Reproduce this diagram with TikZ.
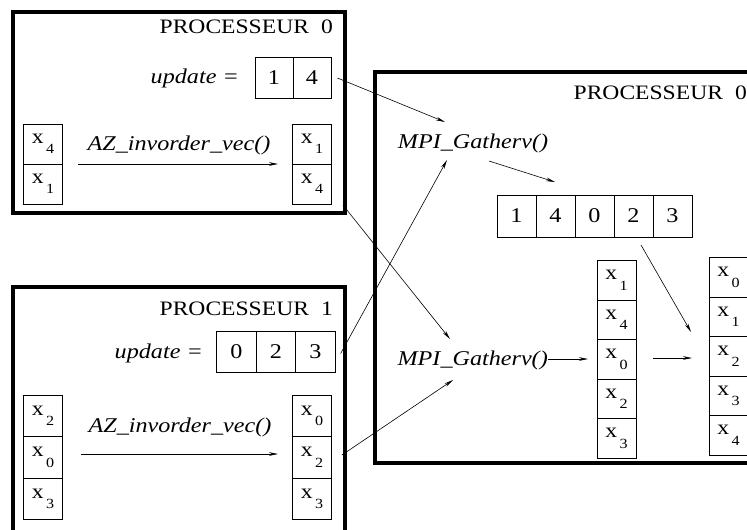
\documentclass[tikz,border=0pt]{standalone}
\usepackage{fontspec}
\setmainfont[FakeStretch=1.15]{Liberation Serif}
\usetikzlibrary{arrows.meta}
\newcommand{\xsub}[1]{x\hspace{2.5pt}\raisebox{-10.5pt}{\fontsize{14}{14}\selectfont #1}}
\tikzset{
  bigbox/.style={draw, line width=3.5pt},
  cell/.style={draw, line width=0.8pt, minimum width=39pt, minimum height=40pt, inner sep=0pt, font=\fontsize{20.5}{20}\selectfont},
  numcell/.style={cell, minimum height=41pt, font=\fontsize{21}{20}\selectfont},
  title/.style={anchor=base east, inner sep=0pt, font=\fontsize{20.5}{20}\selectfont},
  lbl/.style={anchor=base, inner sep=0pt, font=\fontsize{21}{20}\selectfont\itshape},
  arr/.style={line width=0.6pt, -{Stealth[length=9pt,width=3.6pt]}},
}
\begin{document}
\begin{tikzpicture}[x=1pt,y=-1pt]
\useasboundingbox (0,0) rectangle (747,530);
% frames
\draw[bigbox] (13,12) rectangle (345,213);
\draw[bigbox] (13,287) rectangle (345,560);
\draw[bigbox] (375,72) rectangle (770,463);
% processor 0
\node[title] (t0) at (333,33) {PROCESSEUR\hspace{12pt}0};
\node[lbl, anchor=base east] (up0) at (239,83) {update =};
\node[numcell, minimum width=38pt] (u01) at (274,78) {1};
\node[numcell, minimum width=38pt] (u04) at (312,78) {4};
\node[cell] (l04) at (43,144) {\xsub{4}};
\node[cell] (l01) at (43,184) {\xsub{1}};
\node[cell] (r01) at (312,144) {\xsub{1}};
\node[cell] (r04) at (312,184) {\xsub{4}};
\coordinate (az0s) at (78,164);
\coordinate (az0e) at (278,164);
\draw[arr] (az0s) -- (az0e);
\node[lbl] (az0) at (179,150) {AZ\_invorder\_vec()};
% processor 1
\node[title] (t1) at (333,315) {PROCESSEUR\hspace{12pt}1};
\node[lbl, anchor=base east] (up1) at (203,358) {update =};
\node[numcell, minimum width=39.5pt] (u10) at (236.5,351.5) {0};
\node[numcell, minimum width=39.5pt] (u12) at (276,351.5) {2};
\node[numcell, minimum width=39.5pt] (u13) at (315.5,351.5) {3};
\node[cell, minimum height=41.5pt] (l12) at (43,416) {\xsub{2}};
\node[cell, minimum height=41.5pt] (l10) at (43,457.5) {\xsub{0}};
\node[cell, minimum height=41.5pt] (l13) at (43,499) {\xsub{3}};
\node[cell, minimum height=41.5pt] (r10) at (312,416) {\xsub{0}};
\node[cell, minimum height=41.5pt] (r12) at (312,457.5) {\xsub{2}};
\node[cell, minimum height=41.5pt] (r13) at (312,499) {\xsub{3}};
\coordinate (az1s) at (81,454);
\coordinate (az1e) at (278,454);
\draw[arr] (az1s) -- (az1e);
\node[lbl] (az1) at (180,432) {AZ\_invorder\_vec()};
% root processor
\node[title] (t2) at (747,99) {PROCESSEUR\hspace{12pt}0};
\node[lbl] (g1) at (473,148) {MPI\_Gatherv()};
\node[lbl, anchor=base east] (g2) at (548,365) {MPI\_Gatherv()};
\node[numcell, minimum height=42pt] (a1) at (516.5,216) {1};
\node[numcell, minimum height=42pt] (a4) at (555.5,216) {4};
\node[numcell, minimum height=42pt] (a0) at (594.5,216) {0};
\node[numcell, minimum height=42pt] (a2) at (633.5,216) {2};
\node[numcell, minimum height=42pt] (a3) at (672.5,216) {3};
\node[cell, minimum height=39.5pt] (m1) at (616.5,280.5) {\xsub{1}};
\node[cell, minimum height=39.5pt] (m4) at (616.5,320) {\xsub{4}};
\node[cell, minimum height=39.5pt] (m0) at (616.5,359.5) {\xsub{0}};
\node[cell, minimum height=39.5pt] (m2) at (616.5,399) {\xsub{2}};
\node[cell, minimum height=39.5pt] (m3) at (616.5,438.5) {\xsub{3}};
\node[cell, minimum height=39.5pt] (f0) at (728.5,277.5) {\xsub{0}};
\node[cell, minimum height=39.5pt] (f1) at (728.5,317) {\xsub{1}};
\node[cell, minimum height=39.5pt] (f2) at (728.5,356.5) {\xsub{2}};
\node[cell, minimum height=39.5pt] (f3) at (728.5,396) {\xsub{3}};
\node[cell, minimum height=39.5pt] (f4) at (728.5,435.5) {\xsub{4}};
% connector ends
\coordinate (e1) at (445,122);
\coordinate (e3) at (447,160);
\coordinate (e2) at (450,339);
\coordinate (e4) at (453,380);
\coordinate (s5) at (489,161);
\coordinate (e5) at (555,182);
\coordinate (s6) at (641,245);
\coordinate (e6) at (691,332);
\coordinate (e7) at (588,359);
\coordinate (s8) at (653,358);
\coordinate (e8) at (692,358);
\draw[arr] ([xshift=6pt]u04.east) -- (e1);
\draw[arr] ([xshift=11pt,yshift=-21pt]r04.east) -- (e2);
\draw[arr] ([xshift=5pt,yshift=-2pt]u13.east) -- (e3);
\draw[arr] ([xshift=10pt,yshift=2.5pt]r12.east) -- (e4);
\draw[arr] (s5) -- (e5);
\draw[arr] (s6) -- (e6);
\draw[arr] ([yshift=6pt]g2.base east) -- (e7);
\draw[arr] (s8) -- (e8);
\end{tikzpicture}
\end{document}
